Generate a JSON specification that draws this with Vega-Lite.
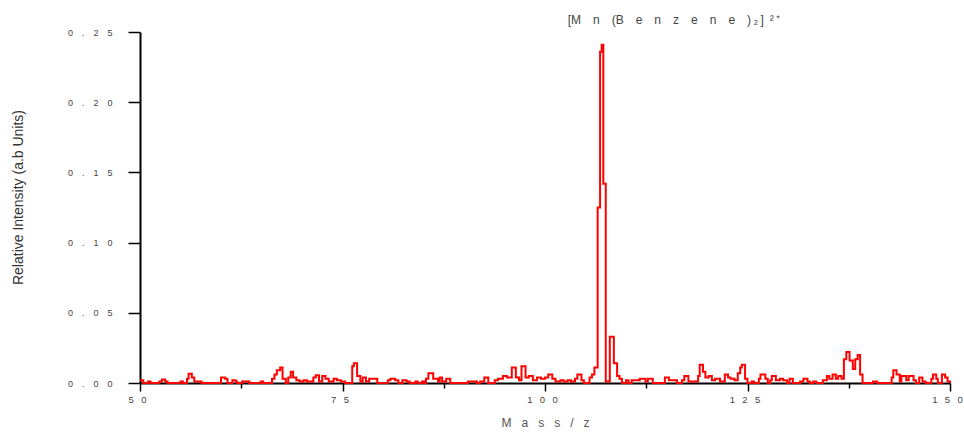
{
  "$schema": "https://vega.github.io/schema/vega-lite/v6.json",
  "width": 810,
  "height": 351,
  "autosize": {"type": "none"},
  "padding": {"left": 140, "top": 32, "right": 14, "bottom": 49},
  "background": "white",
  "config": {"view": {"stroke": null}, "font": "Liberation Sans"},
  "datasets": {
    "spectrum": [
      {"mass": 50.0, "intensity": 0.002}, {"mass": 50.4, "intensity": 0}, {"mass": 51.0, "intensity": 0.001}, {"mass": 51.3, "intensity": 0},
      {"mass": 52.4, "intensity": 0.001}, {"mass": 52.7, "intensity": 0.0025}, {"mass": 53.1, "intensity": 0.001}, {"mass": 53.4, "intensity": 0},
      {"mass": 55.0, "intensity": 0.001}, {"mass": 55.3, "intensity": 0}, {"mass": 55.8, "intensity": 0.003}, {"mass": 56.0, "intensity": 0.0065},
      {"mass": 56.4, "intensity": 0.004}, {"mass": 56.7, "intensity": 0.001}, {"mass": 57.6, "intensity": 0}, {"mass": 60.0, "intensity": 0.004},
      {"mass": 60.5, "intensity": 0.003}, {"mass": 60.8, "intensity": 0}, {"mass": 61.4, "intensity": 0.002}, {"mass": 61.8, "intensity": 0.001},
      {"mass": 62.0, "intensity": 0}, {"mass": 62.6, "intensity": 0.001}, {"mass": 63.5, "intensity": 0}, {"mass": 64.9, "intensity": 0.001},
      {"mass": 65.2, "intensity": 0}, {"mass": 66.3, "intensity": 0.003}, {"mass": 66.6, "intensity": 0.006}, {"mass": 66.9, "intensity": 0.009},
      {"mass": 67.3, "intensity": 0.011}, {"mass": 67.6, "intensity": 0.003}, {"mass": 68.0, "intensity": 0}, {"mass": 68.3, "intensity": 0.004},
      {"mass": 68.6, "intensity": 0.008}, {"mass": 68.9, "intensity": 0.004}, {"mass": 69.3, "intensity": 0.002}, {"mass": 69.7, "intensity": 0.001},
      {"mass": 70.2, "intensity": 0.002}, {"mass": 70.6, "intensity": 0.001}, {"mass": 71.4, "intensity": 0.004}, {"mass": 71.7, "intensity": 0.0055},
      {"mass": 72.1, "intensity": 0.001}, {"mass": 72.5, "intensity": 0.005}, {"mass": 72.9, "intensity": 0.003}, {"mass": 73.3, "intensity": 0.001},
      {"mass": 73.9, "intensity": 0.003}, {"mass": 74.3, "intensity": 0.002}, {"mass": 74.8, "intensity": 0.001}, {"mass": 75.3, "intensity": 0},
      {"mass": 76.2, "intensity": 0.012}, {"mass": 76.4, "intensity": 0.014}, {"mass": 76.8, "intensity": 0.005}, {"mass": 77.2, "intensity": 0.001},
      {"mass": 77.5, "intensity": 0.004}, {"mass": 77.9, "intensity": 0.001}, {"mass": 78.3, "intensity": 0.003}, {"mass": 78.8, "intensity": 0.003},
      {"mass": 79.3, "intensity": 0}, {"mass": 80.6, "intensity": 0.002}, {"mass": 80.9, "intensity": 0.003}, {"mass": 81.5, "intensity": 0.002},
      {"mass": 81.9, "intensity": 0}, {"mass": 82.4, "intensity": 0.002}, {"mass": 82.9, "intensity": 0.001}, {"mass": 83.3, "intensity": 0},
      {"mass": 84.0, "intensity": 0.001}, {"mass": 84.3, "intensity": 0}, {"mass": 84.8, "intensity": 0.001}, {"mass": 85.1, "intensity": 0},
      {"mass": 85.3, "intensity": 0.003}, {"mass": 85.6, "intensity": 0.007}, {"mass": 86.2, "intensity": 0.003}, {"mass": 86.8, "intensity": 0.001},
      {"mass": 87.0, "intensity": 0.004}, {"mass": 87.3, "intensity": 0.001}, {"mass": 87.8, "intensity": 0.003}, {"mass": 88.3, "intensity": 0},
      {"mass": 90.5, "intensity": 0.001}, {"mass": 91.3, "intensity": 0.001}, {"mass": 91.6, "intensity": 0}, {"mass": 92.0, "intensity": 0.001},
      {"mass": 92.5, "intensity": 0.004}, {"mass": 93.0, "intensity": 0}, {"mass": 93.8, "intensity": 0.002}, {"mass": 94.2, "intensity": 0.003},
      {"mass": 94.8, "intensity": 0.005}, {"mass": 95.3, "intensity": 0.004}, {"mass": 95.9, "intensity": 0.011}, {"mass": 96.4, "intensity": 0.004},
      {"mass": 96.8, "intensity": 0.002}, {"mass": 97.1, "intensity": 0.012}, {"mass": 97.6, "intensity": 0.004}, {"mass": 98.0, "intensity": 0.005},
      {"mass": 98.5, "intensity": 0.002}, {"mass": 99.0, "intensity": 0.004}, {"mass": 99.5, "intensity": 0.003}, {"mass": 100.0, "intensity": 0.004},
      {"mass": 100.4, "intensity": 0.006}, {"mass": 100.9, "intensity": 0.003}, {"mass": 101.3, "intensity": 0.001}, {"mass": 101.9, "intensity": 0.002},
      {"mass": 102.3, "intensity": 0.001}, {"mass": 102.8, "intensity": 0.002}, {"mass": 103.2, "intensity": 0.001}, {"mass": 103.7, "intensity": 0.003},
      {"mass": 104.0, "intensity": 0.006}, {"mass": 104.5, "intensity": 0.002}, {"mass": 104.8, "intensity": 0}, {"mass": 105.5, "intensity": 0.004},
      {"mass": 105.8, "intensity": 0.006}, {"mass": 106.1, "intensity": 0.011}, {"mass": 106.5, "intensity": 0.125}, {"mass": 106.8, "intensity": 0.236},
      {"mass": 107.0, "intensity": 0.241}, {"mass": 107.2, "intensity": 0.142}, {"mass": 107.5, "intensity": 0.001}, {"mass": 108.0, "intensity": 0.033},
      {"mass": 108.5, "intensity": 0.014}, {"mass": 108.9, "intensity": 0.005}, {"mass": 109.2, "intensity": 0.003}, {"mass": 109.5, "intensity": 0},
      {"mass": 110.0, "intensity": 0.002}, {"mass": 110.3, "intensity": 0}, {"mass": 110.7, "intensity": 0.002}, {"mass": 111.7, "intensity": 0.003},
      {"mass": 112.0, "intensity": 0.003}, {"mass": 112.4, "intensity": 0.001}, {"mass": 112.7, "intensity": 0.003}, {"mass": 113.3, "intensity": 0},
      {"mass": 114.8, "intensity": 0.004}, {"mass": 115.3, "intensity": 0.002}, {"mass": 115.7, "intensity": 0.002}, {"mass": 116.3, "intensity": 0},
      {"mass": 116.9, "intensity": 0.002}, {"mass": 117.2, "intensity": 0.005}, {"mass": 117.7, "intensity": 0.001}, {"mass": 118.9, "intensity": 0.005},
      {"mass": 119.1, "intensity": 0.013}, {"mass": 119.5, "intensity": 0.008}, {"mass": 119.8, "intensity": 0.004}, {"mass": 120.2, "intensity": 0.005},
      {"mass": 120.6, "intensity": 0.002}, {"mass": 121.0, "intensity": 0.003}, {"mass": 121.6, "intensity": 0.001}, {"mass": 122.2, "intensity": 0.006},
      {"mass": 122.6, "intensity": 0.004}, {"mass": 122.9, "intensity": 0.003}, {"mass": 123.4, "intensity": 0.002}, {"mass": 123.8, "intensity": 0.007},
      {"mass": 124.1, "intensity": 0.011}, {"mass": 124.3, "intensity": 0.013}, {"mass": 124.7, "intensity": 0.003}, {"mass": 125.0, "intensity": 0},
      {"mass": 125.5, "intensity": 0.001}, {"mass": 125.8, "intensity": 0}, {"mass": 126.4, "intensity": 0.003}, {"mass": 126.6, "intensity": 0.006},
      {"mass": 127.2, "intensity": 0.003}, {"mass": 127.5, "intensity": 0}, {"mass": 127.8, "intensity": 0.002}, {"mass": 128.0, "intensity": 0.005},
      {"mass": 128.5, "intensity": 0.002}, {"mass": 129.0, "intensity": 0.003}, {"mass": 129.4, "intensity": 0.002}, {"mass": 129.9, "intensity": 0},
      {"mass": 130.2, "intensity": 0.003}, {"mass": 130.6, "intensity": 0}, {"mass": 131.5, "intensity": 0.001}, {"mass": 131.9, "intensity": 0.003},
      {"mass": 132.4, "intensity": 0.001}, {"mass": 132.7, "intensity": 0}, {"mass": 133.1, "intensity": 0.001}, {"mass": 133.5, "intensity": 0},
      {"mass": 134.3, "intensity": 0.002}, {"mass": 134.8, "intensity": 0.005}, {"mass": 135.1, "intensity": 0.003}, {"mass": 135.5, "intensity": 0.006},
      {"mass": 135.9, "intensity": 0.003}, {"mass": 136.2, "intensity": 0.005}, {"mass": 136.6, "intensity": 0.003}, {"mass": 136.9, "intensity": 0.017},
      {"mass": 137.2, "intensity": 0.022}, {"mass": 137.6, "intensity": 0.016}, {"mass": 138.0, "intensity": 0.01}, {"mass": 138.3, "intensity": 0.017},
      {"mass": 138.6, "intensity": 0.02}, {"mass": 138.9, "intensity": 0.006}, {"mass": 139.2, "intensity": 0}, {"mass": 140.5, "intensity": 0.001},
      {"mass": 141.0, "intensity": 0}, {"mass": 142.8, "intensity": 0.004}, {"mass": 143.0, "intensity": 0.009}, {"mass": 143.4, "intensity": 0.006},
      {"mass": 143.8, "intensity": 0.001}, {"mass": 144.0, "intensity": 0.005}, {"mass": 144.6, "intensity": 0.002}, {"mass": 144.9, "intensity": 0.005},
      {"mass": 145.5, "intensity": 0.002}, {"mass": 145.8, "intensity": 0}, {"mass": 146.2, "intensity": 0.004}, {"mass": 146.6, "intensity": 0.001},
      {"mass": 147.0, "intensity": 0}, {"mass": 147.7, "intensity": 0.003}, {"mass": 147.9, "intensity": 0.006}, {"mass": 148.3, "intensity": 0.003},
      {"mass": 148.5, "intensity": 0}, {"mass": 149.0, "intensity": 0.006}, {"mass": 149.4, "intensity": 0.004}, {"mass": 149.7, "intensity": 0.001},
      {"mass": 150.0, "intensity": 0}
    ],
    "annotation": [
      {"mass": 102.8, "intensity": 0.2585, "label": "[M\u2003n\u2003(B\u2003e\u2003n\u2003z\u2003e\u2003n\u2003e\u2003)\u2009\u2082\u2009]\u2002\u00b2\u2009\u207a"}
    ]
  },
  "layer": [
    {
      "data": {"name": "spectrum"},
      "mark": {"type": "line", "interpolate": "step-after", "color": "#ff0000", "strokeWidth": 2},
      "encoding": {
        "x": {
          "field": "mass", "type": "quantitative",
          "scale": {"domain": [50, 150], "nice": false, "zero": false},
          "axis": {
            "values": [50, 62.5, 75, 87.5, 100, 112.5, 125, 137.5, 150],
            "labelExpr": "datum.value % 25 == 0 ? join(split(format(datum.value, 'd'), ''), '\u2002\u00a0') : ''",
            "tickSize": {"condition": {"test": "datum.value % 25 == 0", "value": 8}, "value": 5},
            "tickColor": "#000000", "tickWidth": 1.5,
            "domainColor": "#000000", "domainWidth": 2,
            "labelFont": "Liberation Sans", "labelFontSize": 9.5, "labelColor": "#444444",
            "labelPadding": 3, "labelFlush": false, "labelOffset": -3,
            "grid": false,
            "title": "M\u00a0\u00a0\u00a0a\u00a0\u00a0\u00a0s\u00a0\u00a0\u00a0s\u00a0\u00a0\u00a0/\u00a0\u00a0\u00a0z",
            "titleFont": "Liberation Sans", "titleFontSize": 12, "titleFontWeight": "normal", "titleColor": "#555555",
            "titleY": 39, "titleBaseline": "middle"
          }
        },
        "y": {
          "field": "intensity", "type": "quantitative",
          "scale": {"domain": [0, 0.25], "nice": false},
          "axis": {
            "values": [0, 0.025, 0.05, 0.075, 0.1, 0.125, 0.15, 0.175, 0.2, 0.225, 0.25],
            "labelExpr": "round(datum.value * 1000) % 50 == 0 ? join(split(format(datum.value, '.2f'), ''), '\u2003') : ''",
            "tickSize": {"condition": {"test": "round(datum.value * 1000) % 50 == 0", "value": 12}, "value": 5},
            "tickColor": "#000000", "tickWidth": 1.5,
            "domainColor": "#000000", "domainWidth": 2,
            "labelFont": "Liberation Sans", "labelFontSize": 9, "labelColor": "#444444",
            "labelPadding": 16, "labelFlush": false,
            "grid": false,
            "title": "Relative Intensity (a.b Units)",
            "titleFont": "Liberation Sans", "titleFontSize": 14, "titleFontWeight": "normal", "titleColor": "#333333",
            "titleX": -122, "titleY": 165, "titleAngle": -90, "titleBaseline": "middle", "titleAlign": "center"
          }
        }
      }
    },
    {
      "data": {"name": "annotation"},
      "mark": {"type": "text", "align": "left", "baseline": "middle", "font": "Liberation Sans", "fontSize": 12, "color": "#444444", "clip": false},
      "encoding": {
        "x": {"field": "mass", "type": "quantitative"},
        "y": {"field": "intensity", "type": "quantitative"},
        "text": {"field": "label"}
      }
    }
  ]
}
